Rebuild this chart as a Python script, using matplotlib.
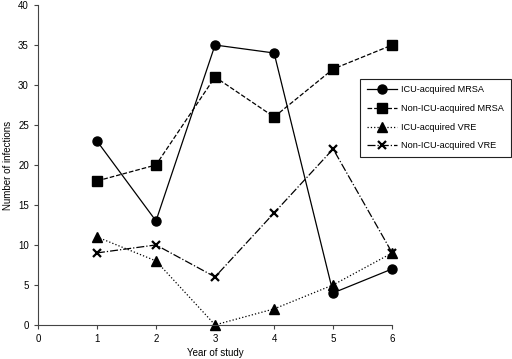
import matplotlib
matplotlib.use("Agg")
import matplotlib.pyplot as plt

plt.rcParams['font.family'] = ['Liberation Sans', 'DejaVu Sans']

years = [1, 2, 3, 4, 5, 6]
icu_mrsa = [23, 13, 35, 34, 4, 7]
nonicu_mrsa = [18, 20, 31, 26, 32, 35]
icu_vre = [11, 8, 0, 2, 5, 9]
nonicu_vre = [9, 10, 6, 14, 22, 9]

fig = plt.figure(figsize=(5.12, 3.59), dpi=100)
ax = fig.add_axes([0.074, 0.095, 0.692, 0.891])

lw = 0.9
ax.plot(years, icu_mrsa, '-', color='black', lw=lw, marker='o', ms=6.5, label='ICU-acquired MRSA', clip_on=False)
ax.plot(years, nonicu_mrsa, '--', color='black', lw=lw, marker='s', ms=6.5, label='Non-ICU-acquired MRSA', clip_on=False)
ax.plot(years, icu_vre, ':', color='black', lw=lw, marker='^', ms=6.5, label='ICU-acquired VRE', clip_on=False)
ax.plot(years, nonicu_vre, '-.', color='black', lw=lw, marker='x', ms=6, mew=1.6, label='Non-ICU-acquired VRE', clip_on=False)

ax.set_xlim(0, 6)
ax.set_ylim(0, 40)
ax.set_xticks(range(0, 7))
ax.set_yticks(range(0, 41, 5))
ax.spines['top'].set_visible(False)
ax.spines['right'].set_visible(False)
for s in ['left', 'bottom']:
    ax.spines[s].set_linewidth(0.8)
    ax.spines[s].set_color('#444444')
ax.tick_params(direction='out', length=3, width=0.8, labelsize=7, colors='#444444', labelcolor='black')
ax.set_xlabel('Year of study', fontsize=7, labelpad=3)
ax.set_ylabel('Number of infections', fontsize=7, labelpad=4)

leg = ax.legend(loc='upper left', bbox_to_anchor=(0.91, 0.77), fontsize=6.6,
                frameon=True, fancybox=False, edgecolor='#222222', handlelength=3.2,
                borderpad=0.75, labelspacing=1.05, handletextpad=0.5, borderaxespad=0,
                framealpha=1)
leg.get_frame().set_linewidth(0.8)

fig.savefig('out.png', dpi=100)
